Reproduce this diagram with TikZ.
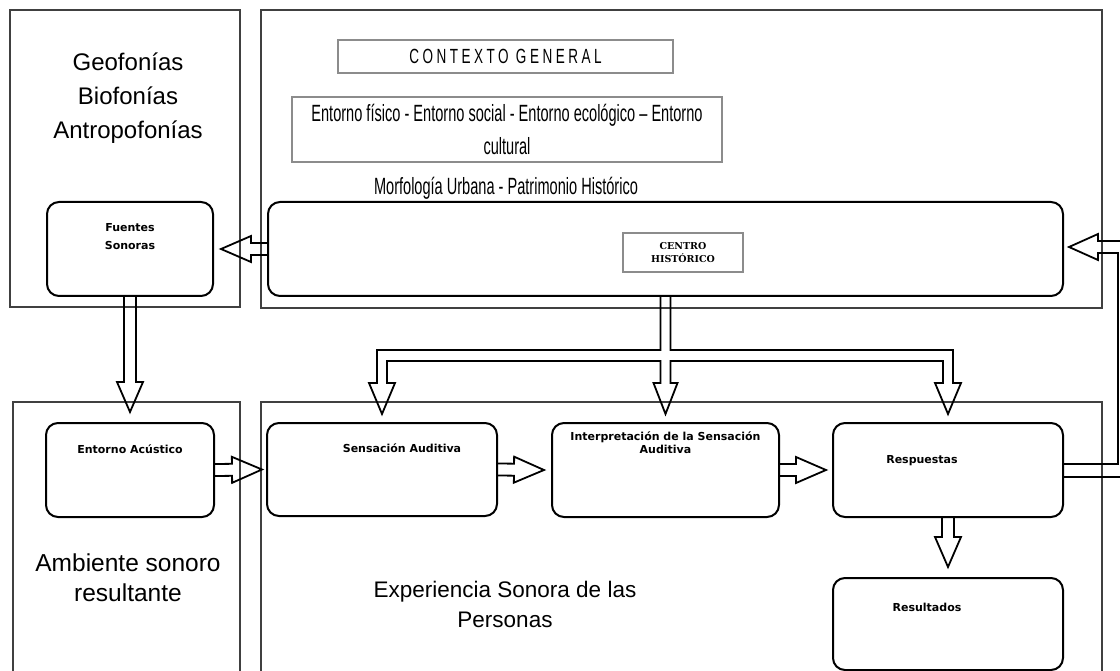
\documentclass[tikz,border=0pt]{standalone}
\usepackage{fontspec}
\setmainfont{Liberation Sans}
\newfontfamily\narrowfont[FakeStretch=0.62]{Liberation Sans}
\newfontfamily\spacedfont[FakeStretch=0.66,LetterSpace=17]{Liberation Sans}
\newfontfamily\boxfont{DejaVu Sans}
\newfontfamily\tagfont{DejaVu Serif}
\usetikzlibrary{positioning,calc}

% hollow block arrow from #1 to the tip #2
\newcommand{\blockarrow}[2]{%
  \coordinate (ba-h) at ($(#2)!30pt!(#1)$);
  \draw[blk] ($(#1)!6pt!90:(#2)$) -- ($(ba-h)!6pt!90:(#2)$) -- ($(ba-h)!13pt!90:(#2)$) -- (#2)
    -- ($(ba-h)!13pt!-90:(#2)$) -- ($(ba-h)!6pt!-90:(#2)$) -- ($(#1)!6pt!-90:(#2)$);
}

\begin{document}
\begin{tikzpicture}[x=1pt, y=-1pt, node distance={15pt},
  frame/.style = {draw=black!75, line width=1.5pt},
  soft/.style = {draw, line width=2pt, rounded corners=12pt, inner sep=0pt},
  gbox/.style = {draw=black!45, line width=1.2pt, inner sep=0pt, align=center},
  lbl/.style = {inner sep=0pt, align=center, font=\boxfont\bfseries\fontsize{11}{12.5}\selectfont},
  big/.style = {inner sep=0pt, align=center, font=\fontsize{24.5}{30}\selectfont},
  blk/.style = {draw, line width=1.8pt, line join=miter}]
\clip (0,0) rectangle (1120,671);

% outer frames
\draw[frame] (10,10) rectangle (240,307);
\draw[frame] (261,10) rectangle (1102,308);
\draw[frame] (13,690) |- (240,402) -- (240,690);
\draw[frame] (261,690) |- (1102,402) -- (1102,690);

% texts of the frames
\node[big, font=\fontsize{24}{34}\selectfont] (fonias) at (128,98) {Geofonías\\Biofonías\\Antropofonías};
\node[big] (ambiente) at (128,578) {Ambiente sonoro\\resultante};
\node[big, font=\fontsize{22.5}{30}\selectfont] (experiencia) at (505,604) {Experiencia Sonora de las\\Personas};
\node[gbox, minimum width=335pt, minimum height=33pt, font=\spacedfont\fontsize{20.5}{22}\selectfont] (ctx) at (505.5,56.5) {CONTEXTO GENERAL};
\node[gbox, minimum width=430pt, minimum height=65pt, font=\narrowfont\fontsize{23.5}{33}\selectfont] (entornos) at (507,129.5) {Entorno físico - Entorno social - Entorno ecológico – Entorno\\cultural};
\node[inner sep=0pt, font=\narrowfont\fontsize{23.5}{26}\selectfont] (morf) at (506,188) {Morfología Urbana - Patrimonio Histórico};

% rounded boxes
\node[soft, minimum width=166pt, minimum height=94pt] (fuentes) at (130,249) {};
\node[soft, minimum width=795pt, minimum height=94pt] (centro) at (665.5,249) {};
\node[soft, minimum width=168pt, minimum height=94pt] (acustico) at (130,470) {};
\node[soft, minimum width=230pt, minimum height=93pt] (sens) at (382,469.5) {};
\node[soft, minimum width=227pt, minimum height=94pt] (interp) at (665.5,470) {};
\node[soft, minimum width=230pt, minimum height=94pt] (resp) at (948,470) {};
\node[soft, minimum width=230pt, minimum height=92pt] (result) at (948,624) {};
\node[gbox, minimum width=120pt, minimum height=39pt, font=\tagfont\bfseries\fontsize{9.5}{13}\selectfont] (tag) at (683,252.5) {CENTRO\\HISTÓRICO};

% labels inside the boxes
\node[lbl, below=22pt of fuentes.north] (fuenteslbl) {Fuentes\\[6pt]Sonoras};
\node[lbl, below=23pt of acustico.north] (acusticolbl) {Entorno Acústico};
\node[lbl, below=22pt of sens.north, xshift=20pt] (senslbl) {Sensación Auditiva};
\node[lbl, below=10pt of interp.north] (interplbl) {Interpretación de la Sensación\\Auditiva};
\node[lbl, below=33pt of resp.north, xshift=-26pt] (resplbl) {Respuestas};
\node[lbl, below=26pt of result.north, xshift=-21pt] (resultlbl) {Resultados};

% arrows
\coordinate (tF) at ($(fuentes.east)+(7,0)$);
\coordinate (tA) at ($(acustico.north)+(0,-10)$);
\coordinate (tS) at ($(sens.west)+(-4,0)$);
\coordinate (tI) at ($(interp.west)+(-7,0)$);
\coordinate (tR2) at ($(resp.west)+(-6,0)$);
\coordinate (tRes) at ($(result.north)+(0,-10)$);
\blockarrow{centro.west}{tF}
\blockarrow{fuentes.south}{tA}
\blockarrow{acustico.east}{tS}
\blockarrow{sens.east}{tI}
\blockarrow{interp.east}{tR2}
\blockarrow{resp.south}{tRes}

% three-way arrow from the centro
\coordinate (tL) at ($(sens.north)+(0,-8)$);
\coordinate (tM) at ($(interp.north)+(0,-8)$);
\coordinate (tR) at ($(resp.north)+(0,-8)$);
\draw[blk] ($(centro.south)+(-5,0)$) -- ++(0,53) -| ($(tL)+(-5,-31)$) -- ++(-8,0) -- (tL) -- ++(13,-31) -- ++(-8,0)
  |- ($(tM)+(-5,-53)$) -- ($(tM)+(-5,-31)$) -- ++(-7,0) -- (tM) -- ++(12,-31) -- ++(-7,0)
  |- ($(tR)+(-5,-53)$) -- ($(tR)+(-5,-31)$) -- ++(-8,0) -- (tR) -- ++(13,-31) -- ++(-8,0)
  |- ($(centro.south)+(5,53)$) -- ($(centro.south)+(5,0)$);

% feedback arrow
\coordinate (tC) at ($(centro.east)+(5,-2)$);
\draw[blk] ($(resp.east)+(0,-6)$) -| ($(tC)+(49,6)$) -- ($(tC)+(29,6)$) -- ++(0,7) -- (tC)
  -- ($(tC)+(29,-13)$) -- ++(0,7) -- ($(tC)+(61,-6)$) |- ($(resp.east)+(0,7)$);
\end{tikzpicture}
\end{document}
